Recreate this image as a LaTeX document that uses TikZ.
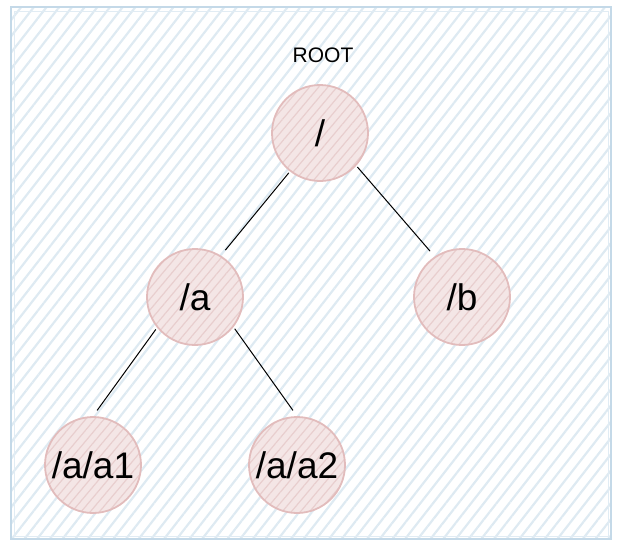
\documentclass[tikz,border=0pt]{standalone}
\usepackage{fontspec}
\setmainfont{Liberation Sans}
\usetikzlibrary{patterns.meta}
\definecolor{hatchblue}{RGB}{222,234,242}
\definecolor{frameblue}{RGB}{196,217,232}
\definecolor{softpink}{RGB}{244,230,230}
\definecolor{hatchpink}{RGB}{232,206,206}
\definecolor{ringpink}{RGB}{226,188,188}

\begin{document}
\begin{tikzpicture}[x=1pt, y=-1pt,
    dirnode/.style={circle, draw=ringpink, line width=1.8pt, minimum size=96pt, inner sep=0pt,
      preaction={fill=softpink},
      pattern={Lines[angle=50, distance=7pt, line width=1.2pt]}, pattern color=hatchpink,
      font=\fontsize{37}{40}\selectfont},
    link/.style={draw=black, line width=1pt, shorten <=2pt, shorten >=7pt}]
  \useasboundingbox (0,0) rectangle (629,554);
  % frame
  \fill[pattern={Lines[angle=52, distance=10pt, line width=2.2pt]}, pattern color=hatchblue]
    (11,7) rectangle (611,539);
  \draw[frameblue, line width=1.6pt] (11,7) rectangle (611,539);
  \draw[frameblue!50, line width=1pt] (14,11) rectangle (608,536);

  \node[font=\fontsize{21}{24}\selectfont] (root) at (323,55) {ROOT};
  \node[dirnode] (top) at (320,133) {/};
  \node[dirnode] (a) at (195,297) {/a};
  \node[dirnode] (b) at (462,297) {/b};
  \node[dirnode] (a1) at (93,465) {/a/a1};
  \node[dirnode] (a2) at (297,465) {/a/a2};

  \draw[link] (top.232) -- (a.58);
  \draw[link] (top.318) -- (b.124);
  \draw[link] (a.219) -- (a1.north);
  \draw[link] (a.322) -- (a2.north);
\end{tikzpicture}
\end{document}
